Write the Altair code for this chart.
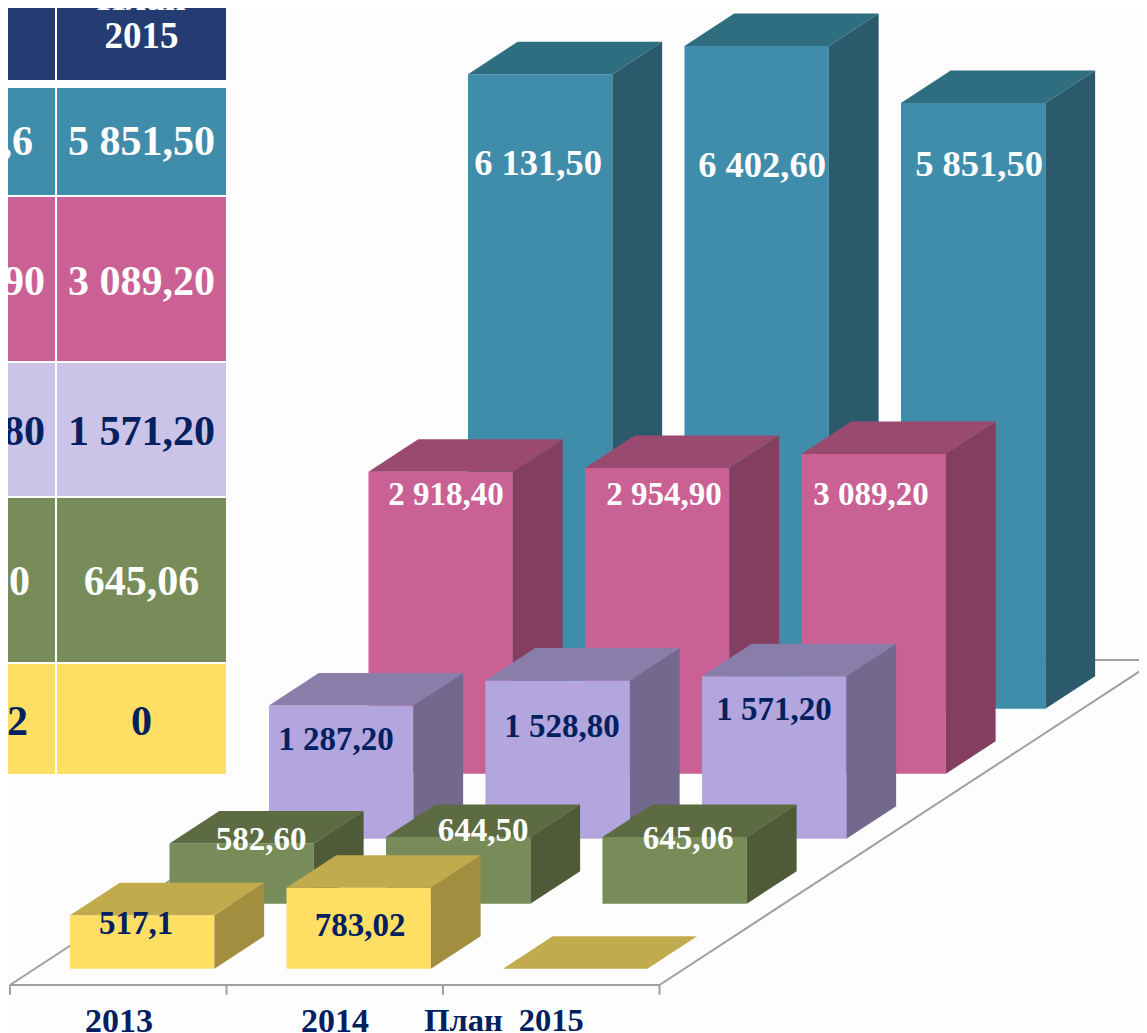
import altair as alt
import pandas as pd

# ---- data ----
CATEGORIES = ["2013", "2014", "План\u00a0\u00a02015"]
TEAL = [6131.50, 6402.60, 5851.50]
PINK = [2918.40, 2954.90, 3089.20]
LAVENDER = [1287.20, 1528.80, 1571.20]
GREEN = [582.60, 644.50, 645.06]
YELLOW = [517.1, 783.02, 0]
TEAL_TXT = ["6 131,50", "6 402,60", "5 851,50"]
PINK_TXT = ["2 918,40", "2 954,90", "3 089,20"]
LAVENDER_TXT = ["1 287,20", "1 528,80", "1 571,20"]
GREEN_TXT = ["582,60", "644,50", "645,06"]
YELLOW_TXT = ["517,1", "783,02", ""]

# table columns (the left one is cut by the picture edge)
TABLE_2014 = ["6 402,6", "2 954,90", "1 528,80", "644,50", "783,02"]
TABLE_2015 = ["5 851,50", "3 089,20", "1 571,20", "645,06", "0"]

# ---- styles ----
FONT = "Liberation Serif"
NAVY = "#00205F"
WHITE = "#FFFFFF"
BG = "#FDFDFD"
# back to front: values, labels, (front, side, top)
SERIES = [
    (TEAL, TEAL_TXT, ("#3F8DAA", "#2A5A6B", "#2F6D80"), WHITE, 36.5, [538, 762, 979], [164, 166, 165]),
    (PINK, PINK_TXT, ("#C96194", "#843E60", "#9A4A70"), WHITE, 33, [446, 664, 871], [495, 495, 495]),
    (LAVENDER, LAVENDER_TXT, ("#B3A6DF", "#73698E", "#897DAA"), NAVY, 33, [336, 562, 774], [740, 727, 710]),
    (GREEN, GREEN_TXT, ("#778C58", "#4E5A38", "#5C6B42"), WHITE, 33, [261, 483, 688], [840, 831, 839]),
    (YELLOW, YELLOW_TXT, ("#FEDF63", "#A38E40", "#C2AB4D"), NAVY, 33, [136, 360, 0], [924, 926, 0]),
]

# ---- oblique projection expressed in data units ----
PAGE_W, PAGE_H, MARGIN = 1139, 1033, 8
PX_PER_CAT = 216.5
PX_PER_VAL = 0.1035
ORIGIN_X, ORIGIN_Y = 10.0, 985.0
DEPTH_X = 99.5 / PX_PER_CAT      # categories per series slot
DEPTH_Y = 65.0 / PX_PER_VAL      # value units per series slot
GAP = 35.1 / PX_PER_CAT
BAR_W = 144.4 / PX_PER_CAT


def wx(u, d):
    return u + d * DEPTH_X


def wy(v, d):
    return v + d * DEPTH_Y


def bar_rows(values, colors, slot):
    rows = []
    front, side, top = colors
    d0, d1 = slot + 0.25, slot + 0.75
    for i, v in enumerate(values):
        u0, u1 = i + GAP, i + GAP + BAR_W
        if v > 0:
            rows += [
                dict(poly=f"{i}f", color=front, x=wx(u0, d0), y=wy(v, d0), y2=wy(0, d0)),
                dict(poly=f"{i}f", color=front, x=wx(u1, d0), y=wy(v, d0), y2=wy(0, d0)),
                dict(poly=f"{i}s", color=side, x=wx(u1, d0), y=wy(v, d0), y2=wy(0, d0)),
                dict(poly=f"{i}s", color=side, x=wx(u1, d1), y=wy(v, d1), y2=wy(0, d1)),
            ]
        rows += [
            dict(poly=f"{i}t", color=top, x=wx(u0, d0), y=wy(v, d0), y2=wy(v, d0)),
            dict(poly=f"{i}t", color=top, x=wx(u0, d1), y=wy(v, d1), y2=wy(v, d0)),
            dict(poly=f"{i}t", color=top, x=wx(u1, d0), y=wy(v, d1), y2=wy(v, d0)),
            dict(poly=f"{i}t", color=top, x=wx(u1, d1), y=wy(v, d1), y2=wy(v, d1)),
        ]
    return rows


W = PAGE_W - MARGIN
H = PAGE_H - MARGIN
x_world = alt.Scale(domain=[(MARGIN - ORIGIN_X) / PX_PER_CAT, (PAGE_W - ORIGIN_X) / PX_PER_CAT], nice=False, zero=False)
y_world = alt.Scale(domain=[(ORIGIN_Y - PAGE_H) / PX_PER_VAL, (ORIGIN_Y - MARGIN) / PX_PER_VAL], nice=False, zero=False)
x_px = alt.Scale(domain=[MARGIN, PAGE_W], nice=False, zero=False)
y_px = alt.Scale(domain=[PAGE_H, MARGIN], nice=False, zero=False)

GREY = "#A0A0A0"
n = len(CATEGORIES)
floor_rows = []
for name, pts in {
    "front": [(0, 0), (n, 0)],
    "right": [(n, 0), (n, 5)],
    "left": [(0, 0), (0, 5)],
    "back": [(0, 5), (n, 5)],
}.items():
    for k, (u, d) in enumerate(pts):
        floor_rows.append(dict(line=name, k=k, x=wx(u, d), y=wy(0, d)))
floor = alt.Chart(pd.DataFrame(floor_rows)).mark_line(color=GREY, strokeWidth=2, clip=True).encode(
    x=alt.X("x:Q", scale=x_world, axis=None),
    y=alt.Y("y:Q", scale=y_world, axis=None),
    detail="line:N",
    order="k:Q",
)
ticks = alt.Chart(pd.DataFrame({"x": list(range(n + 1)), "y": [0.0] * (n + 1), "y2": [-95.0] * (n + 1)})).mark_rule(
    color=GREY, strokeWidth=2
).encode(
    x=alt.X("x:Q", scale=x_world, axis=None),
    y=alt.Y("y:Q", scale=y_world, axis=None),
    y2="y2:Q",
)

world_layers = [floor, ticks]
for idx, (vals, txt, cols, tc, fs, lx, ly) in enumerate(SERIES):
    slot = len(SERIES) - 1 - idx
    world_layers.append(
        alt.Chart(pd.DataFrame(bar_rows(vals, cols, slot))).mark_area(orient="vertical", interpolate="linear", clip=True).encode(
            x=alt.X("x:Q", scale=x_world, axis=None),
            y=alt.Y("y:Q", scale=y_world, axis=None),
            y2="y2:Q",
            color=alt.Color("color:N", scale=None),
            detail="poly:N",
        )
    )
world = alt.layer(*world_layers)

# ---- table and texts in page pixels ----
ROW_TOP = [-10, 88, 197, 363, 498, 664]
ROW_BOT = [80, 195, 361, 496, 662, 774]
ROW_COL = ["#253C73", "#3F8DAA", "#CA6094", "#CBC4E8", "#778C58", "#FEDF63"]
COL_X0 = [0, 57]
COL_X1 = [55, 226]
cells = []
for r in range(len(ROW_TOP)):
    for c in range(2):
        cells.append(dict(x=COL_X0[c], x2=COL_X1[c], y=ROW_TOP[r], y2=ROW_BOT[r], color=ROW_COL[r]))
table = alt.Chart(pd.DataFrame(cells)).mark_rect().encode(
    x=alt.X("x:Q", scale=x_px, axis=None),
    x2="x2:Q",
    y=alt.Y("y:Q", scale=y_px, axis=None),
    y2="y2:Q",
    color=alt.Color("color:N", scale=None),
)


def text_layer(items, size, align="center"):
    return alt.Chart(pd.DataFrame(items)).mark_text(
        font=FONT, fontWeight="bold", fontSize=size, align=align, baseline="middle"
    ).encode(
        x=alt.X("x:Q", scale=x_px, axis=None),
        y=alt.Y("y:Q", scale=y_px, axis=None),
        text="t:N",
        color=alt.Color("c:N", scale=None),
    )


ROW_Y = [142, 282, 432, 582, 722]
ROW_TXT = [WHITE, WHITE, NAVY, WHITE, NAVY]
LEFT_END = [33, 45, 45, 30, 28]
col2 = [dict(x=141.5, y=ROW_Y[i], t=TABLE_2015[i], c=ROW_TXT[i]) for i in range(5)]
col1 = [dict(x=LEFT_END[i], y=ROW_Y[i], t=TABLE_2014[i], c=ROW_TXT[i]) for i in range(5)]
head2 = [dict(x=141.5, y=-1, t="План", c=WHITE), dict(x=141.5, y=37, t="2015", c=WHITE)]
head1 = [dict(x=7, y=22, t="2014", c=WHITE)]
cat_x = [119, 335, 504]
cat_y = [1022, 1022, 1021]
cats = [dict(x=cat_x[i], y=cat_y[i], t=CATEGORIES[i], c=NAVY) for i in range(2)]
cats_plan = [dict(x=cat_x[2], y=cat_y[2], t=CATEGORIES[2], c=NAVY)]

px_layers = [
    table,
    text_layer(col2, 42),
    text_layer(col1, 42, "right"),
    text_layer(head2, 37),
    text_layer(head1, 37, "right"),
    text_layer(cats, 34),
    text_layer(cats_plan, 32.5),
]
for vals, txt, cols, tc, fs, lx, ly in SERIES:
    items = [dict(x=lx[i], y=ly[i], t=txt[i], c=tc) for i in range(3) if txt[i]]
    px_layers.append(text_layer(items, fs))
overlay = alt.layer(*px_layers)

chart = alt.layer(world, overlay).resolve_scale(x="independent", y="independent").properties(
    width=W,
    height=H,
    padding=0,
    background=BG,
    autosize=alt.AutoSizeParams(type="none"),
).configure_view(stroke=None)

chart.save("out.html", embed_options={"renderer": "svg", "actions": False})
